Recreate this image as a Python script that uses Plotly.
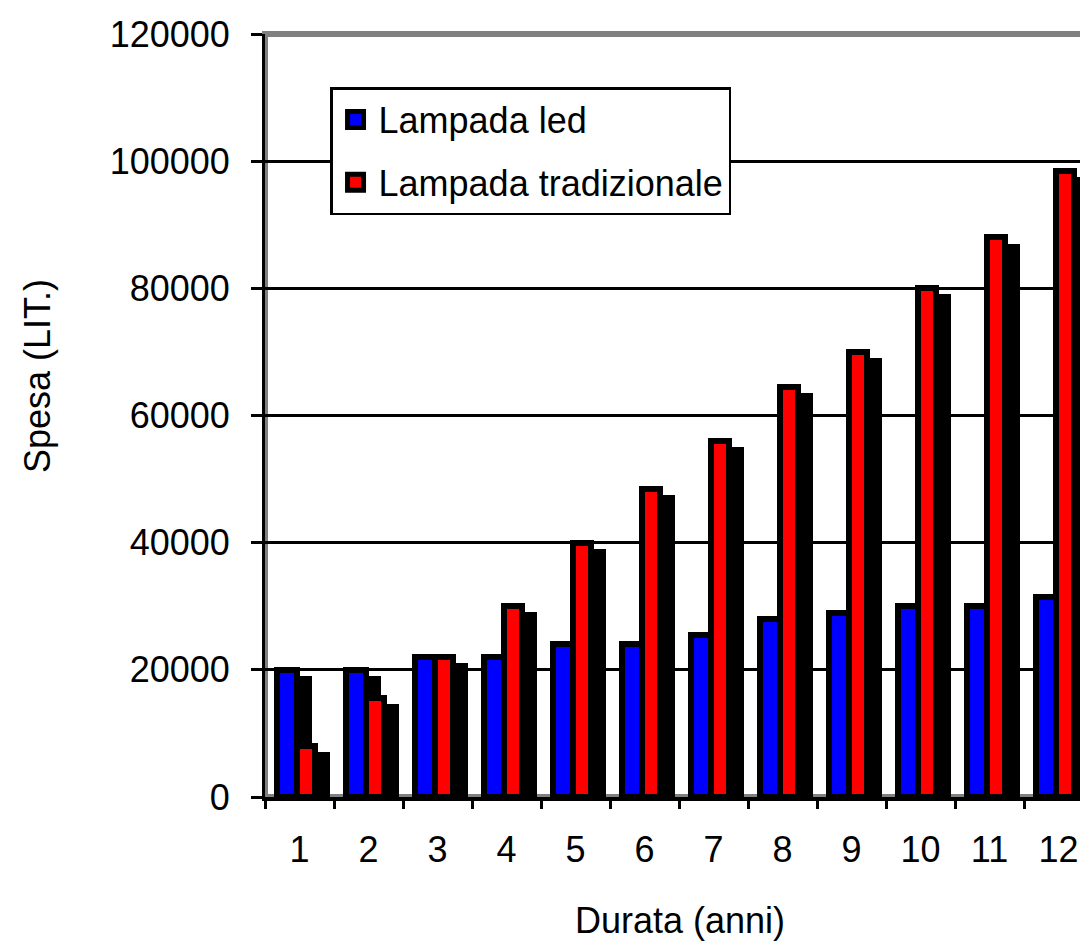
import plotly.graph_objects as go

# Durata (anni) on the category axis
anni = ["1", "2", "3", "4", "5", "6", "7", "8", "9", "10", "11", "12"]

# Spesa cumulata (lire) per tipo di lampada
spesa_led = [20000, 20000, 22000, 22000, 24000, 24000, 25500, 28000, 29000, 30000, 30000, 31500]
spesa_tradizionale = [8000, 15500, 22000, 30000, 40000, 48500, 56000, 64500, 70000, 80000, 88000, 98500]

y_ticks = [0, 20000, 40000, 60000, 80000, 100000, 120000]

serie = [
    ("Lampada led", spesa_led, "#0000FF"),
    ("Lampada tradizionale", spesa_tradizionale, "#FF0000"),
]

FONT = "Liberation Sans, Arial, sans-serif"
CAT_PX = 69.0                 # pixel width of one category slot
SHADOW_DX = 12.0 / CAT_PX     # drop shadow shift to the right (category units)
SHADOW_DROP = 950             # drop shadow sits a little lower than the bar top
OUTLINE = 6

# bar geometry in category units: (offset, width) of the outlined face
face_geom = [(-22.5 / CAT_PX, 20.0 / CAT_PX), (-2.5 / CAT_PX, 18.0 / CAT_PX)]

fig = go.Figure()

for (name, vals, color), (off, wid) in zip(serie, face_geom):
    # black drop shadow behind each column
    outer_w = wid + OUTLINE / CAT_PX
    outer_off = off - OUTLINE / 2 / CAT_PX
    fig.add_trace(go.Bar(
        x=anni, y=[v - SHADOW_DROP for v in vals],
        offset=outer_off + SHADOW_DX, width=outer_w,
        marker=dict(color="black", line=dict(width=0)),
        showlegend=False, hoverinfo="skip",
    ))
    # coloured face with thick black outline
    fig.add_trace(go.Bar(
        x=anni, y=vals, name=name,
        offset=off, width=wid,
        marker=dict(color=color, line=dict(color="black", width=OUTLINE)),
        showlegend=False,
    ))

# legend entries
for i, (name, vals, color) in enumerate(serie):
    fig.add_trace(go.Scatter(
        x=[None], y=[None], mode="markers", name=name, legendgroup=f"g{i}",
        marker=dict(symbol="square", size=16, color=color,
                    line=dict(color="black", width=5)),
    ))

# grey plot frame (top, left, bottom)
fig.add_shape(type="path", xref="paper", yref="paper",
              path="M 1,0 L 0,0 L 0,1 L 1,1",
              line=dict(color="#808080", width=6), layer="between")

fig.update_layout(
    width=1080, height=943, autosize=False,
    margin=dict(l=265, r=0, t=34, b=146),
    paper_bgcolor="white", plot_bgcolor="white",
    barmode="overlay", bargap=0,
    font=dict(family=FONT, size=36, color="black"),
    showlegend=True,
    legend=dict(
        x=0.0798, y=0.9305, xanchor="left", yanchor="top",
        bgcolor="white", bordercolor="black", borderwidth=2.5,
        font=dict(family=FONT, size=36, color="black"),
        tracegroupgap=13, traceorder="grouped", itemwidth=36,
    ),
    xaxis=dict(
        type="category", categoryorder="array", categoryarray=anni,
        range=[-0.5, -0.5 + 815 / CAT_PX],
        showgrid=False, zeroline=False,
        showline=True, linecolor="black", linewidth=3.5,
        ticks="outside", tickson="boundaries", ticklen=8, tickwidth=2.5, tickcolor="black",
        tickfont=dict(family=FONT, size=36, color="black"),
        ticklabelstandoff=18,
    ),
    yaxis=dict(
        range=[0, 120000], tickvals=y_ticks, tickformat="d",
        showgrid=True, gridcolor="black", gridwidth=2.5,
        zeroline=False,
        showline=True, linecolor="black", linewidth=3,
        ticks="outside", ticklen=11, tickwidth=2.5, tickcolor="black",
        tickfont=dict(family=FONT, size=36, color="black"),
        ticklabelstandoff=14,
    ),
    annotations=[
        dict(text="Spesa (LIT.)", textangle=-90, xref="paper", yref="paper",
             x=(38 - 265) / 815, y=(797 - 376) / 763, xanchor="center", yanchor="middle",
             showarrow=False, font=dict(family=FONT, size=36, color="black")),
        dict(text="Durata (anni)", xref="paper", yref="paper",
             x=(680 - 265) / 815, y=(797 - 920) / 763, xanchor="center", yanchor="middle",
             showarrow=False, font=dict(family=FONT, size=36, color="black")),
    ],
)

fig.write_html("out.html")
